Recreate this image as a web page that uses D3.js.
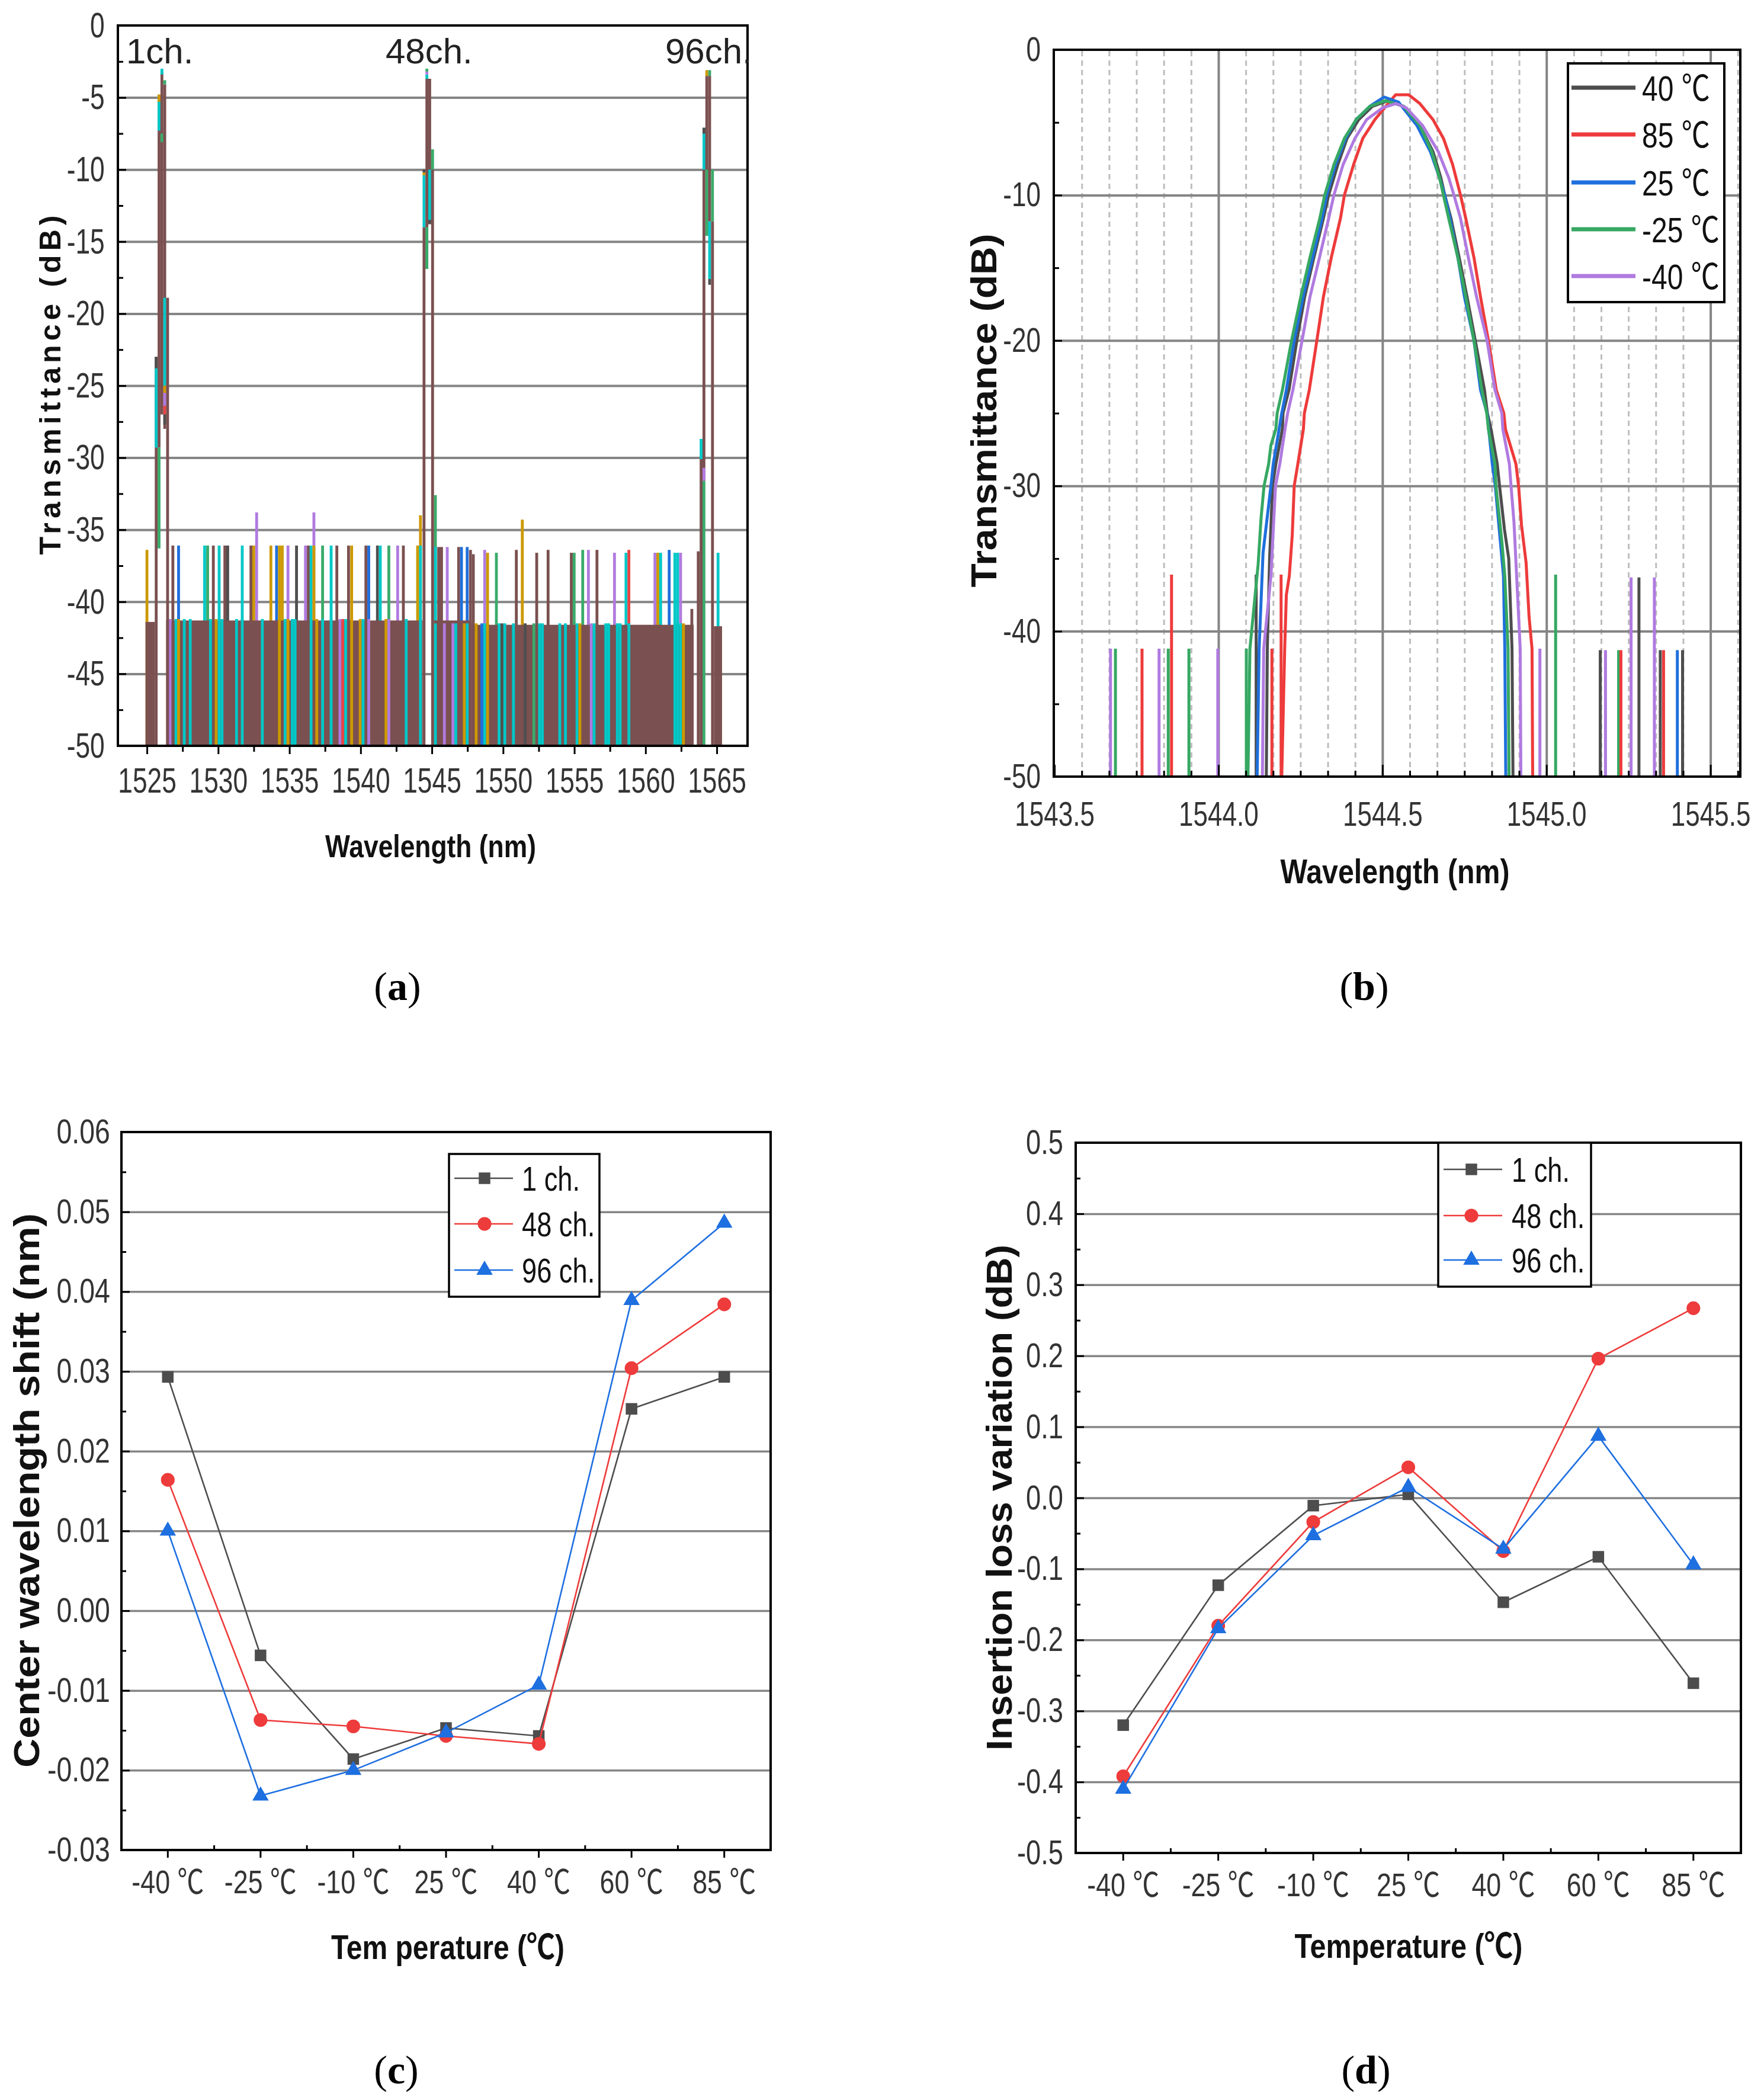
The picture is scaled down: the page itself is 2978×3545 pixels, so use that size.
<!DOCTYPE html>
<html>
<head>
<meta charset="utf-8">
<script src="https://cdn.jsdelivr.net/npm/d3@7"></script>
<style>
  html, body { margin: 0; padding: 0; background: #fff; }
  svg { display: block; }
</style>
</head>
<body>
<svg id="fig"></svg>
<script>
// Page size matches the reference figure
const width = 2978, height = 3545;

// ---------------- data: (a) full C-band spectrum ----------------
// trace keys -> colour map further down
const aXTicks = [1525, 1530, 1535, 1540, 1545, 1550, 1555, 1560, 1565];
const aYTicks = [0, -5, -10, -15, -20, -25, -30, -35, -40, -45, -50];
const aChannels = ["1ch.", "48ch.", "96ch."];

// brown noise floor: [from nm, to nm, dB]
const aFloor = [
  [1524.9, 1525.56, -41.4], [1526.35, 1544.35, -41.3],
  [1545.15, 1547.8, -41.3], [1547.8, 1563.38, -41.6], [1564.8, 1565.37, -41.7]
];
// noise spikes: [nm, dB, trace]
const aSpikes = [
  [1525.0, -36.4, "or"], [1526.82, -36.1, "br"], [1527.22, -36.1, "bl"], [1529.05, -36.1, "cy"],
  [1529.26, -36.1, "gr"], [1529.66, -36.1, "br"], [1530.07, -36.1, "cy"], [1530.47, -36.1, "br"],
  [1530.67, -36.1, "dk"], [1531.69, -36.1, "cy"], [1532.30, -36.1, "br"], [1532.50, -36.1, "or"],
  [1532.70, -33.8, "pu"], [1533.70, -36.1, "or"], [1534.10, -36.1, "bl"], [1534.30, -36.1, "or"],
  [1534.50, -36.1, "or"], [1534.90, -36.1, "pu"], [1535.50, -36.1, "dk"], [1536.13, -36.1, "pu"],
  [1536.33, -36.1, "br"], [1536.52, -36.1, "cy"], [1536.72, -33.8, "pu"], [1536.72, -36.1, "or"],
  [1537.33, -36.1, "gr"], [1537.93, -36.1, "cy"], [1538.33, -36.1, "br"], [1539.15, -36.1, "br"],
  [1539.37, -36.1, "or"], [1540.37, -36.1, "br"], [1540.57, -36.1, "bl"], [1541.18, -36.1, "dk"],
  [1541.38, -36.1, "cy"], [1541.98, -36.1, "gr"], [1542.60, -36.1, "pu"], [1543.00, -36.1, "br"],
  [1544.00, -36.1, "or"], [1544.20, -34.0, "or"], [1544.20, -36.1, "cy"],
  [1545.25, -32.6, "gr"], [1545.25, -36.2, "cy"], [1545.48, -36.2, "br"], [1545.68, -36.2, "br"],
  [1546.08, -36.2, "pu"], [1546.88, -36.2, "br"], [1547.08, -36.2, "bl"], [1547.48, -36.2, "bl"],
  [1547.71, -36.4, "br"], [1547.91, -36.7, "br"], [1548.71, -36.4, "pu"], [1548.91, -36.6, "or"],
  [1549.53, -36.6, "gr"], [1550.93, -36.4, "br"], [1551.35, -34.3, "or"], [1552.36, -36.6, "br"],
  [1553.16, -36.4, "br"], [1554.79, -36.6, "br"], [1554.99, -36.6, "gr"], [1555.59, -36.4, "gr"],
  [1555.99, -36.4, "pu"], [1556.59, -36.4, "br"], [1557.82, -36.6, "pu"], [1558.63, -36.6, "cy"],
  [1558.83, -36.4, "rd"], [1560.66, -36.6, "pu"], [1560.86, -36.6, "or"], [1561.06, -36.6, "cy"],
  [1561.66, -36.4, "bl"], [1562.06, -36.6, "cy"], [1562.26, -36.6, "cy"], [1562.46, -36.6, "pu"],
  [1565.09, -36.6, "cy"]
];
// other traces showing through the floor: [nm, dB, trace]
const aStripes = [
  [1526.62, -41.2, "pu"], [1527.04, -41.2, "cy"], [1527.22, -41.2, "or"], [1527.62, -41.2, "cy"],
  [1528.04, -41.2, "cy"], [1529.46, -41.2, "cy"], [1529.86, -41.2, "or"], [1530.07, -41.2, "cy"],
  [1530.27, -41.2, "cy"], [1531.29, -41.2, "cy"], [1531.69, -41.2, "cy"], [1533.10, -41.2, "cy"],
  [1534.30, -41.2, "or"], [1534.70, -41.2, "cy"], [1534.90, -41.2, "or"], [1535.20, -41.2, "cy"],
  [1535.40, -41.2, "cy"], [1536.52, -41.2, "cy"], [1536.92, -41.2, "or"], [1537.33, -41.2, "cy"],
  [1537.93, -41.2, "cy"], [1538.55, -41.2, "pu"], [1538.75, -41.2, "rd"], [1538.95, -41.2, "cy"],
  [1539.37, -41.2, "or"], [1539.97, -41.2, "or"], [1540.17, -41.2, "cy"], [1540.57, -41.2, "pu"],
  [1541.78, -41.2, "or"], [1541.98, -41.2, "pu"], [1543.20, -41.2, "cy"], [1544.20, -41.2, "cy"],
  [1545.25, -41.5, "cy"], [1545.88, -41.5, "pu"], [1546.48, -41.5, "pu"], [1546.68, -41.5, "cy"],
  [1547.28, -41.5, "or"], [1547.48, -41.5, "cy"], [1548.11, -41.5, "or"], [1548.51, -41.5, "bl"],
  [1548.71, -41.5, "cy"], [1548.91, -41.5, "or"], [1549.72, -41.5, "cy"], [1549.92, -41.5, "dk"],
  [1550.12, -41.5, "cy"], [1550.73, -41.5, "cy"], [1551.55, -41.5, "dk"], [1552.16, -41.5, "gr"],
  [1552.56, -41.5, "cy"], [1552.76, -41.5, "cy"], [1553.98, -41.5, "cy"], [1554.38, -41.5, "cy"],
  [1555.19, -41.5, "cy"], [1555.39, -41.5, "or"], [1556.19, -41.5, "pu"], [1556.39, -41.5, "cy"],
  [1557.21, -41.5, "cy"], [1557.41, -41.5, "cy"], [1558.02, -41.5, "cy"], [1558.22, -41.5, "cy"],
  [1558.83, -41.5, "cy"], [1562.06, -41.5, "cy"], [1562.26, -41.5, "cy"], [1562.46, -41.5, "cy"],
  [1562.66, -41.5, "or"]
];
// channel peaks: [nm, low dB, high dB, trace]
const aPeaks = [
  [1525.65, -50, -23.0, "br"], [1525.65, -23.8, -23.0, "dk"], [1525.65, -29.3, -23.8, "cy"],
  [1525.85, -29.3, -4.8, "br"], [1525.85, -5.3, -4.8, "or"], [1525.85, -7.3, -5.3, "cy"], [1525.85, -36.3, -29.3, "gr"],
  [1526.05, -27.0, -3.2, "br"], [1526.05, -3.4, -3.0, "cy"], [1526.05, -8.1, -7.5, "gr"],
  [1526.25, -28.0, -4.1, "br"], [1526.25, -4.1, -3.8, "gr"], [1526.25, -25.0, -18.9, "cy"],
  [1526.25, -25.5, -25.0, "or"], [1526.25, -26.4, -25.5, "pu"], [1526.25, -27.0, -26.4, "rd"], [1526.25, -27.7, -27.0, "dk"],
  [1526.45, -50, -18.9, "br"],
  [1544.45, -50, -14.0, "br"], [1544.45, -14.0, -10.4, "cy"], [1544.45, -10.4, -10.2, "or"], [1544.45, -10.2, -10.0, "dk"],
  [1544.65, -16.9, -3.7, "br"], [1544.65, -16.9, -14.0, "gr"], [1544.65, -3.7, -3.4, "cy"],
  [1544.65, -3.4, -3.2, "pu"], [1544.65, -3.2, -3.0, "gr"],
  [1544.85, -13.7, -3.7, "br"], [1544.85, -13.5, -10.0, "cy"], [1544.85, -13.8, -13.5, "dk"],
  [1545.05, -50, -10.0, "br"], [1545.05, -10.0, -8.6, "gr"],
  [1563.25, -50, -40.5, "br"], [1563.70, -50, -36.5, "br"],
  [1563.90, -50, -30.1, "br"], [1563.90, -30.1, -28.7, "cy"],
  [1564.10, -50, -31.6, "gr"], [1564.10, -31.6, -7.1, "br"], [1564.10, -31.6, -30.7, "pu"],
  [1564.10, -10.0, -7.5, "cy"], [1564.10, -7.5, -7.1, "dk"],
  [1564.30, -14.6, -3.5, "br"], [1564.30, -3.5, -3.1, "or"], [1564.30, -14.6, -10.0, "gr"],
  [1564.50, -13.6, -3.5, "br"], [1564.50, -3.5, -3.1, "gr"], [1564.50, -17.6, -13.6, "cy"], [1564.50, -18.0, -17.6, "dk"],
  [1564.70, -50, -13.6, "br"], [1564.70, -13.6, -10.0, "gr"]
];

// ---------------- data: (b) 48 ch. vs temperature ----------------
const bXTicks = [1543.5, 1544.0, 1544.5, 1545.0, 1545.5];
const bYTicks = [0, -10, -20, -30, -40, -50];
const bSeries = ["40 ℃", "85 ℃", "25 ℃", "-25 ℃", "-40 ℃"];
const bCurve40 = [
  [1544.146,-50],[1544.149,-41.2],[1544.156,-35],[1544.165,-30],[1544.175,-28.5],[1544.195,-26.1],[1544.197,-25],
  [1544.215,-23.4],[1544.239,-20],[1544.263,-17],[1544.291,-14.3],[1544.320,-11.6],[1544.336,-10],[1544.364,-7.9],
  [1544.392,-6.1],[1544.428,-4.8],[1544.469,-3.9],[1544.517,-3.5],[1544.565,-3.9],[1544.614,-5.2],[1544.654,-7.0],
  [1544.678,-8.8],[1544.690,-10],[1544.709,-11.6],[1544.734,-14.3],[1544.758,-17],[1544.783,-20],[1544.811,-23.4],
  [1544.820,-25],[1544.831,-26.1],[1544.850,-28.5],[1544.857,-30],[1544.872,-33],[1544.885,-35],[1544.895,-41.2],[1544.898,-50]
];
const bCurve85 = [
  [1544.193,-50],[1544.202,-41.2],[1544.207,-37.5],[1544.216,-36.2],[1544.225,-33.4],[1544.231,-30],[1544.242,-28.5],
  [1544.259,-26.1],[1544.262,-25],[1544.277,-23.4],[1544.300,-20],[1544.320,-17],[1544.344,-14.3],[1544.372,-11.6],
  [1544.384,-10],[1544.412,-7.9],[1544.440,-6.1],[1544.477,-4.8],[1544.517,-3.7],[1544.540,-3.1],[1544.580,-3.1],
  [1544.614,-3.7],[1544.654,-4.8],[1544.686,-6.1],[1544.714,-7.9],[1544.738,-10],[1544.754,-11.6],[1544.779,-14.3],
  [1544.799,-17],[1544.823,-20],[1544.847,-23.4],[1544.870,-25],[1544.875,-26.1],[1544.887,-27],[1544.907,-28.5],
  [1544.915,-30],[1544.924,-32.7],[1544.938,-35.3],[1544.947,-39],[1544.956,-41.2],[1544.958,-50]
];
const bCurve25 = [
  [1544.118,-50],[1544.124,-41.2],[1544.136,-34.6],[1544.160,-30],[1544.167,-28.5],[1544.185,-26.1],[1544.193,-25],
  [1544.207,-23.4],[1544.231,-20],[1544.258,-17],[1544.287,-14.3],[1544.316,-11.6],[1544.330,-10],[1544.357,-7.9],
  [1544.388,-6.1],[1544.420,-4.8],[1544.461,-3.9],[1544.505,-3.25],[1544.549,-3.6],[1544.605,-5.2],[1544.646,-7.0],
  [1544.674,-8.8],[1544.690,-10],[1544.706,-11.6],[1544.730,-14.3],[1544.750,-17],[1544.779,-20],[1544.799,-23.4],
  [1544.819,-25],[1544.824,-26.1],[1544.835,-28.5],[1544.844,-30],[1544.869,-36.2],[1544.873,-41.2],[1544.876,-50]
];
const bCurveM25 = [
  [1544.090,-50],[1544.096,-41.2],[1544.121,-35.4],[1544.130,-32.2],[1544.139,-30],[1544.153,-28.5],[1544.160,-27.2],
  [1544.175,-26.1],[1544.179,-25],[1544.195,-23.4],[1544.223,-20],[1544.251,-17.0],[1544.279,-14.3],[1544.309,-11.6],
  [1544.324,-10],[1544.352,-7.9],[1544.384,-6.1],[1544.420,-4.8],[1544.461,-3.9],[1544.509,-3.5],[1544.565,-3.9],
  [1544.614,-5.2],[1544.650,-7.0],[1544.674,-8.8],[1544.686,-10],[1544.702,-11.6],[1544.730,-14.3],[1544.754,-17.0],
  [1544.779,-20],[1544.803,-23.4],[1544.818,-25],[1544.823,-26.1],[1544.843,-28.5],[1544.846,-30],[1544.864,-33.8],
  [1544.873,-36.2],[1544.883,-41.2],[1544.886,-50]
];
const bCurveM40 = [
  [1544.134,-50],[1544.138,-41.2],[1544.160,-36.2],[1544.174,-30],[1544.187,-28.5],[1544.203,-26.1],[1544.211,-25],
  [1544.227,-23.4],[1544.255,-20],[1544.279,-17],[1544.308,-14.3],[1544.336,-11.6],[1544.352,-10],[1544.380,-7.9],
  [1544.416,-6.1],[1544.452,-4.8],[1544.500,-4.0],[1544.541,-3.7],[1544.573,-4.0],[1544.622,-5.2],[1544.670,-7.0],
  [1544.702,-8.8],[1544.718,-10],[1544.738,-11.6],[1544.762,-14.3],[1544.787,-17],[1544.819,-20],[1544.843,-23.4],
  [1544.864,-25],[1544.867,-26.1],[1544.887,-28.5],[1544.892,-30],[1544.901,-32.5],[1544.920,-41.2],[1544.922,-50]
];
// isolated noise spikes: [nm, dB, series index]
const bSpikes = [
  [1543.671,-41.2,4],[1543.686,-41.2,3],[1543.767,-41.2,1],[1543.819,-41.2,4],[1543.847,-41.2,3],
  [1543.857,-36.1,1],[1543.910,-41.2,3],[1543.998,-41.2,4],[1544.085,-41.2,3],[1544.115,-36.1,0],
  [1544.163,-41.2,1],[1544.191,-36.1,1],[1544.980,-41.2,4],[1545.028,-36.1,3],[1545.164,-41.3,0],
  [1545.180,-41.3,4],[1545.220,-41.3,3],[1545.227,-41.3,1],[1545.258,-36.3,4],[1545.282,-36.3,0],
  [1545.329,-36.3,4],[1545.347,-41.3,0],[1545.357,-41.3,1],[1545.399,-41.3,2],[1545.415,-41.3,0]
];

// ---------------- data: (c) and (d) ----------------
const temps = ["-40 ℃", "-25 ℃", "-10 ℃", "25 ℃", "40 ℃", "60 ℃", "85 ℃"];
const chNames = ["1 ch.", "48 ch.", "96 ch."];
const shift1 = [0.0293, -0.0056, -0.0186, -0.0147, -0.0157, 0.0253, 0.0293];
const shift48 = [0.0164, -0.0137, -0.0145, -0.0157, -0.0167, 0.0304, 0.0384];
const shift96 = [0.0100, -0.0232, -0.0200, -0.0153, -0.0093, 0.0389, 0.0486];
const loss1 = [-0.320, -0.123, -0.011, 0.005, -0.147, -0.083, -0.261];
const loss48 = [-0.392, -0.180, -0.034, 0.043, -0.075, 0.196, 0.267];
const loss96 = [-0.410, -0.184, -0.053, 0.015, -0.072, 0.087, -0.094];

// ---------------- styles ----------------
const traceColor = { br: "#7b5050", cy: "#00c8c8", or: "#cc9900", pu: "#b07ae0",
                     bl: "#1f6fdc", gr: "#3aab6a", dk: "#4f4f4f", rd: "#e84545" };
const bColors = ["#4d4d4d", "#ee3b3b", "#1f6fdc", "#36a862", "#b07ae0"];
const chColors = ["#4d4d4d", "#ee3b3b", "#1e6fe0"];
const chSymbols = [d3.symbolSquare, d3.symbolCircle, d3.symbolTriangle];
const chSizes = [380, 420, 330];
// condensed look: Liberation Sans squeezed horizontally, CJK font for the ℃ sign
const tickFont = "'Liberation Sans', 'Noto Sans CJK KR', sans-serif";
const titleFont = "'Liberation Sans', 'Noto Sans CJK KR', sans-serif";
const gridColor = "#858585";

const svg = d3.select("#fig").attr("width", width).attr("height", height);
svg.append("rect").attr("width", width).attr("height", height).attr("fill", "#fff");

// ---------------- helpers ----------------
function styleAxis(sel, size, squeeze) {
  sel.select(".domain").remove();
  sel.selectAll(".tick line").attr("stroke", "#000").attr("stroke-width", 3);
  sel.selectAll(".tick text")
    .attr("font-family", tickFont)
    .attr("font-size", size)
    .attr("fill", "#333")
    .attr("transform", `scale(${squeeze},1)`);
}
function plainAxis(sel) {
  sel.select(".domain").remove();
  sel.selectAll(".tick line").attr("stroke", "#000").attr("stroke-width", 3);
}
function gridLines(sel, color, sw, dash) {
  sel.select(".domain").remove();
  sel.selectAll(".tick line").attr("stroke", color).attr("stroke-width", sw)
    .attr("stroke-dasharray", dash || null);
}
function frameBox(x0, y0, x1, y1) {
  svg.append("rect").attr("x", x0).attr("y", y0).attr("width", x1 - x0).attr("height", y1 - y0)
    .attr("fill", "none").attr("stroke", "#000").attr("stroke-width", 4);
}
function axisTitle(x, y, text, size, len, rotate, adjust) {
  svg.append("text")
    .attr("transform", `translate(${x},${y})` + (rotate ? " rotate(-90)" : ""))
    .attr("text-anchor", "middle").attr("dy", "0.35em")
    .attr("font-family", titleFont).attr("font-weight", "bold")
    .attr("font-size", size).attr("fill", "#111")
    .attr("textLength", len).attr("lengthAdjust", adjust || "spacingAndGlyphs")
    .text(text);
}
function panelTag(x, y, letter) {
  const t = svg.append("text").attr("x", x).attr("y", y)
    .attr("text-anchor", "middle").attr("dy", "0.35em")
    .attr("font-family", "'Liberation Serif', 'DejaVu Serif', serif")
    .attr("font-size", 68).attr("fill", "#000");
  t.append("tspan").text("(");
  t.append("tspan").attr("font-weight", "bold").text(letter);
  t.append("tspan").text(")");
}

// ================= (a) =================
const aL = 199, aR = 1262, aT = 43, aB = 1259;
const ax = d3.scaleLinear().domain([1522.96, 1567.16]).range([aL, aR]);
const ay = d3.scaleLinear().domain([-50, 0]).range([aB, aT]);
const colW = 0.2;

svg.append("g").attr("transform", `translate(${aL},0)`)
  .call(d3.axisLeft(ay).tickValues(aYTicks.slice(1, -1)).tickSize(-(aR - aL)).tickFormat(""))
  .call(g => gridLines(g, gridColor, 4));

const aG = svg.append("g");
aG.selectAll("rect.spike").data(aSpikes).join("rect").attr("class", "spike")
  .attr("x", d => ax(d[0] - colW / 2)).attr("width", d => ax(d[0] + colW / 2) - ax(d[0] - colW / 2))
  .attr("y", d => ay(d[1])).attr("height", d => ay(-50) - ay(d[1]))
  .attr("fill", d => traceColor[d[2]]);
aG.selectAll("rect.floor").data(aFloor).join("rect").attr("class", "floor")
  .attr("x", d => ax(d[0])).attr("width", d => ax(d[1]) - ax(d[0]))
  .attr("y", d => ay(d[2])).attr("height", d => ay(-50) - ay(d[2]))
  .attr("fill", traceColor.br);
aG.selectAll("rect.stripe").data(aStripes).join("rect").attr("class", "stripe")
  .attr("x", d => ax(d[0] - colW / 2)).attr("width", d => ax(d[0] + colW / 2) - ax(d[0] - colW / 2))
  .attr("y", d => ay(d[1])).attr("height", d => ay(-50) - ay(d[1]))
  .attr("fill", d => traceColor[d[2]]);
aG.selectAll("rect.peak").data(aPeaks).join("rect").attr("class", "peak")
  .attr("x", d => ax(d[0] - colW / 2)).attr("width", d => ax(d[0] + colW / 2) - ax(d[0] - colW / 2))
  .attr("y", d => ay(d[2])).attr("height", d => ay(d[1]) - ay(d[2]))
  .attr("fill", d => traceColor[d[3]]);

frameBox(aL, aT, aR, aB);

svg.append("g").attr("transform", `translate(0,${aB})`)
  .call(d3.axisBottom(ax).tickValues(aXTicks).tickSize(14).tickPadding(22).tickFormat(d => d))
  .call(g => styleAxis(g, 60, 0.74));
svg.append("g").attr("transform", `translate(0,${aB})`)
  .call(d3.axisBottom(ax).tickValues(aXTicks.slice(0, -1).map(v => v + 2.5)).tickSize(10).tickFormat(""))
  .call(plainAxis);
svg.append("g").attr("transform", `translate(${aL},0)`)
  .call(d3.axisLeft(ay).tickValues(aYTicks).tickSize(-14).tickPadding(30).tickFormat(d => String(d)))
  .call(g => styleAxis(g, 60, 0.74));
svg.append("g").attr("transform", `translate(${aL},0)`)
  .call(d3.axisLeft(ay).tickValues(aYTicks.slice(1).map(v => v + 2.5)).tickSize(-9).tickFormat(""))
  .call(plainAxis);

// channel captions
const aChannelX = [213, 651, 1123];
svg.selectAll("text.ch").data(aChannels).join("text").attr("class", "ch")
  .attr("x", (d, i) => aChannelX[i]).attr("y", 107)
  .attr("font-family", titleFont).attr("font-size", 60).attr("fill", "#222")
  .text(d => d);

axisTitle(84, 650, "Transmittance (dB)", 50, 573, true, "spacing");
axisTitle(727, 1428, "Wavelength (nm)", 54, 356, false);
panelTag(671, 1664, "a");

// ================= (b) =================
const bL = 1779, bR = 2938, bT = 84, bB = 1311;
const bx = d3.scaleLinear().domain([1543.498, 1545.591]).range([bL, bR]);
const by = d3.scaleLinear().domain([-50, 0]).range([bB, bT]);
const bMinor = d3.range(1, 26).filter(i => i % 6 !== 0).map(i => 1543.5 + i / 12);

svg.append("g").attr("transform", `translate(0,${bB})`)
  .call(d3.axisBottom(bx).tickValues(bMinor).tickSize(-(bB - bT)).tickFormat(""))
  .call(g => gridLines(g, "#bdbdbd", 3, "9,7"));
svg.append("g").attr("transform", `translate(0,${bB})`)
  .call(d3.axisBottom(bx).tickValues(bXTicks.slice(1)).tickSize(-(bB - bT)).tickFormat(""))
  .call(g => gridLines(g, gridColor, 4));
svg.append("g").attr("transform", `translate(${bL},0)`)
  .call(d3.axisLeft(by).tickValues(bYTicks.slice(1, -1)).tickSize(-(bR - bL)).tickFormat(""))
  .call(g => gridLines(g, gridColor, 4));

const bLine = d3.line().x(d => bx(d[0])).y(d => by(d[1]));
const bCurves = [bCurve40, bCurve85, bCurve25, bCurveM25, bCurveM40];
svg.selectAll("line.bspike").data(bSpikes).join("line").attr("class", "bspike")
  .attr("x1", d => bx(d[0])).attr("x2", d => bx(d[0]))
  .attr("y1", by(-50)).attr("y2", d => by(d[1]))
  .attr("stroke", d => bColors[d[2]]).attr("stroke-width", 5);
svg.selectAll("path.bcurve").data(bCurves).join("path").attr("class", "bcurve")
  .attr("d", bLine).attr("fill", "none")
  .attr("stroke", (d, i) => bColors[i]).attr("stroke-width", 5).attr("stroke-linejoin", "round");

frameBox(bL, bT, bR, bB);

svg.append("g").attr("transform", `translate(0,${bB})`)
  .call(d3.axisBottom(bx).tickValues(bXTicks).tickSize(-20).tickPadding(42).tickFormat(d => d.toFixed(1)))
  .call(g => styleAxis(g, 58, 0.76));
svg.append("g").attr("transform", `translate(0,${bB})`)
  .call(d3.axisBottom(bx).tickValues(bMinor).tickSize(-10).tickFormat(""))
  .call(plainAxis);
svg.append("g").attr("transform", `translate(${bL},0)`)
  .call(d3.axisLeft(by).tickValues(bYTicks).tickSize(-14).tickPadding(29).tickFormat(d => String(d)))
  .call(g => styleAxis(g, 58, 0.76));
svg.append("g").attr("transform", `translate(${bL},0)`)
  .call(d3.axisLeft(by).tickValues(bYTicks.slice(1).map(v => v + 5)).tickSize(-9).tickFormat(""))
  .call(plainAxis);

// legend (b)
const bLeg = svg.append("g");
bLeg.append("rect").attr("x", 2647).attr("y", 107).attr("width", 264).attr("height", 403)
  .attr("fill", "#fff").attr("stroke", "#000").attr("stroke-width", 4);
const bRowY = [148, 227, 308, 387, 466];
bLeg.selectAll("line").data(bSeries).join("line")
  .attr("x1", 2653).attr("x2", 2761).attr("y1", (d, i) => bRowY[i]).attr("y2", (d, i) => bRowY[i])
  .attr("stroke", (d, i) => bColors[i]).attr("stroke-width", 7);
bLeg.selectAll("text").data(bSeries).join("text")
  .attr("transform", (d, i) => `translate(2772,${bRowY[i]}) scale(0.8,1)`).attr("dy", "0.36em")
  .attr("font-family", tickFont).attr("font-size", 60).attr("fill", "#111")
  .text(d => d);

axisTitle(1660, 693, "Transmittance (dB)", 62, 597, true);
axisTitle(2355, 1471, "Wavelength (nm)", 58, 387, false);
panelTag(2303, 1664, "b");

// ================= (c) and (d) =================
function tempPanel(cfg) {
  const { L, R, T, B } = cfg;
  const x = d3.scaleBand().domain(temps).range([L, R]);
  const y = d3.scaleLinear().domain(cfg.yDomain).range([B, T]);
  const cx = d => x(d) + x.bandwidth() / 2;

  svg.append("g").attr("transform", `translate(${L},0)`)
    .call(d3.axisLeft(y).tickValues(cfg.yTicks.slice(1, -1)).tickSize(-(R - L)).tickFormat(""))
    .call(g => gridLines(g, gridColor, 3.5));

  const series = cfg.values.map((v, i) => ({ name: chNames[i], vals: v, i }));
  const line = d3.line().x((d, k) => cx(temps[k])).y(d => y(d));
  const sg = svg.selectAll(null).data(series).join("g");
  sg.append("path").attr("d", d => line(d.vals)).attr("fill", "none")
    .attr("stroke", d => chColors[d.i]).attr("stroke-width", 2.6);
  sg.selectAll("path.mk").data(d => d.vals.map((v, k) => ({ v, k, i: d.i }))).join("path").attr("class", "mk")
    .attr("transform", d => `translate(${cx(temps[d.k])},${y(d.v)})`)
    .attr("d", d => d3.symbol(chSymbols[d.i], chSizes[d.i])())
    .attr("fill", d => chColors[d.i]);

  frameBox(L, T, R, B);

  svg.append("g").attr("transform", `translate(0,${B})`)
    .call(d3.axisBottom(x).tickSize(13).tickPadding(20))
    .call(g => styleAxis(g, 56, 0.8));
  svg.append("g").attr("transform", `translate(${-x.bandwidth() / 2},${B})`)
    .call(d3.axisBottom(x).tickValues(temps.slice(1)).tickSize(-8).tickFormat(""))
    .call(plainAxis);
  svg.append("g").attr("transform", `translate(${L},0)`)
    .call(d3.axisLeft(y).tickValues(cfg.yTicks).tickSize(-14).tickPadding(cfg.pad).tickFormat(cfg.fmt))
    .call(g => styleAxis(g, 58, cfg.squeeze));
  svg.append("g").attr("transform", `translate(${L},0)`)
    .call(d3.axisLeft(y).tickValues(cfg.yTicks.slice(0, -1).map(v => v + cfg.step / 2)).tickSize(-8).tickFormat(""))
    .call(plainAxis);

  // legend
  const lg = cfg.legend;
  const leg = svg.append("g");
  leg.append("rect").attr("x", lg.x0).attr("y", lg.y0).attr("width", lg.x1 - lg.x0).attr("height", lg.y1 - lg.y0)
    .attr("fill", "#fff").attr("stroke", "#000").attr("stroke-width", 3.5);
  const rows = leg.selectAll("g").data(chNames).join("g")
    .attr("transform", (d, i) => `translate(0,${lg.rows[i]})`);
  rows.append("line").attr("x1", lg.l0).attr("x2", lg.l1)
    .attr("stroke", (d, i) => chColors[i]).attr("stroke-width", 2.6);
  rows.append("path").attr("transform", `translate(${lg.mark},0)`)
    .attr("d", (d, i) => d3.symbol(chSymbols[i], chSizes[i])())
    .attr("fill", (d, i) => chColors[i]);
  rows.append("text").attr("transform", `translate(${lg.text},0) scale(0.78,1)`).attr("dy", "0.36em")
    .attr("font-family", tickFont).attr("font-size", 58).attr("fill", "#111")
    .text(d => d);

  axisTitle(cfg.yTitle[0], cfg.yTitle[1], cfg.yTitle[2], 62, cfg.yTitle[3], true);
  axisTitle(cfg.xTitle[0], cfg.xTitle[1], cfg.xTitle[2], 58, cfg.xTitle[3], false);
  panelTag(cfg.tag[0], cfg.tag[1], cfg.tag[2]);
}

tempPanel({
  L: 205, R: 1301, T: 1911, B: 3123,
  yDomain: [-0.03, 0.06], yTicks: d3.range(-3, 7).map(v => v / 100), step: 0.01,
  fmt: d => d.toFixed(2), squeeze: 0.8, pad: 24,
  values: [shift1, shift48, shift96],
  legend: { x0: 758, y0: 1948, x1: 1012, y1: 2189, rows: [1989, 2066, 2144], l0: 767, l1: 866, mark: 818, text: 881 },
  yTitle: [44, 2516, "Center wavelength shift (nm)", 936],
  xTitle: [756, 3287, "Tem perature (℃)", 394],
  tag: [669, 3493, "c"]
});

tempPanel({
  L: 1816, R: 2939, T: 1929, B: 3128,
  yDomain: [-0.5, 0.5], yTicks: d3.range(-5, 6).map(v => v / 10), step: 0.1,
  fmt: d => d.toFixed(1), squeeze: 0.78, pad: 27,
  values: [loss1, loss48, loss96],
  legend: { x0: 2428, y0: 1929, x1: 2686, y1: 2172, rows: [1974, 2052, 2127], l0: 2437, l1: 2536, mark: 2484, text: 2552 },
  yTitle: [1686, 2528, "Insertion loss variation (dB)", 854],
  xTitle: [2378, 3285, "Temperature (℃)", 385],
  tag: [2306, 3493, "d"]
});
</script>
</body>
</html>
